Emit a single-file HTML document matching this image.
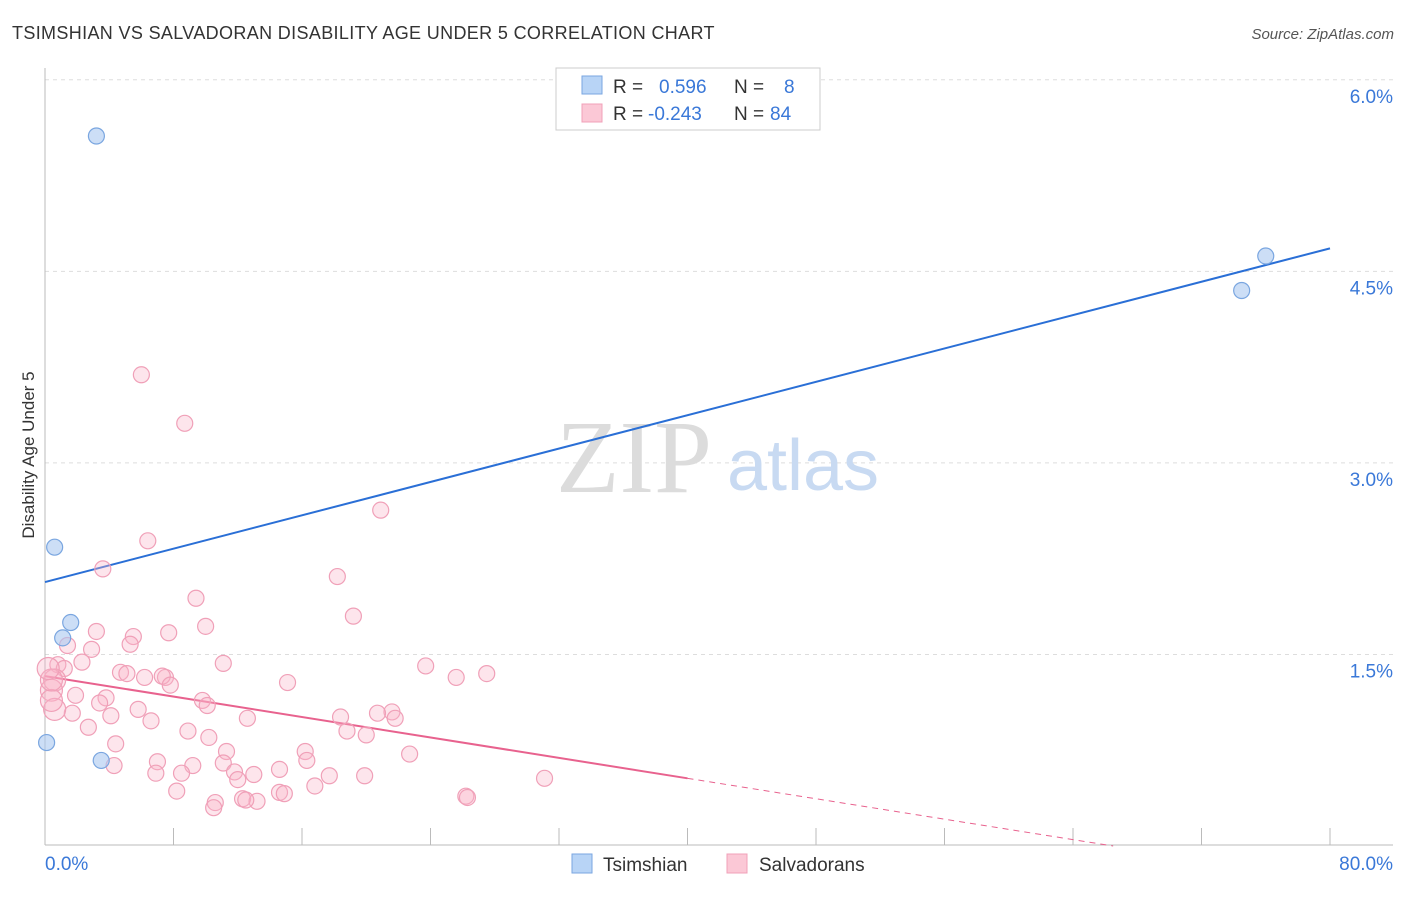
<!DOCTYPE html>
<html><head><meta charset="utf-8"><style>
body{margin:0;background:#fff;font-family:"Liberation Sans",sans-serif;}
</style></head><body>
<svg width="1406" height="892" xmlns="http://www.w3.org/2000/svg" font-family="Liberation Sans, sans-serif">
<text x="12" y="39" font-size="18" fill="#333" letter-spacing="0.35">TSIMSHIAN VS SALVADORAN DISABILITY AGE UNDER 5 CORRELATION CHART</text>
<text x="1394" y="39" font-size="15" fill="#555" font-style="italic" text-anchor="end">Source: ZipAtlas.com</text>
<g id="grid"></g>
<g>
<text x="634" y="492" font-size="104" fill="#dcdcdc" style="font-family:'Liberation Serif',serif" text-anchor="middle">ZIP</text>
<text x="803" y="490" font-size="72" fill="#c8daf2" text-anchor="middle">atlas</text>
</g>
<line x1="45" y1="68" x2="45" y2="845" stroke="#bbb"/>
<line x1="45" y1="845" x2="1393" y2="845" stroke="#bbb"/>
<g id="xticks"></g>
<text x="45" y="870" font-size="19" fill="#3a78d8">0.0%</text>
<text x="1393" y="870" font-size="19" fill="#3a78d8" text-anchor="end">80.0%</text>
<text transform="translate(34,455) rotate(-90)" font-size="17" fill="#333" text-anchor="middle">Disability Age Under 5</text>
<g id="lines"></g>
<g id="pts"></g>
<g>
<rect x="556" y="68" width="264" height="62" fill="#fff" stroke="#ccc"/>
<rect x="582" y="76" width="20" height="18" fill="#b8d4f6" stroke="#7aa6e0"/>
<rect x="582" y="104" width="20" height="18" fill="#fbc8d6" stroke="#f0a0b8"/>
<text x="613" y="93" font-size="19" fill="#333">R = <tspan fill="#3a78d8" x="659">0.596</tspan><tspan x="734">N = </tspan><tspan fill="#3a78d8" x="784">8</tspan></text>
<text x="613" y="120" font-size="19" fill="#333">R = <tspan fill="#3a78d8" x="648">-0.243</tspan><tspan x="734">N = </tspan><tspan fill="#3a78d8" x="770">84</tspan></text>
</g>
<g>
<rect x="572" y="854" width="20" height="19" fill="#b8d4f6" stroke="#7aa6e0"/>
<text x="603" y="871" font-size="19" fill="#333">Tsimshian</text>
<rect x="727" y="854" width="20" height="19" fill="#fbc8d6" stroke="#f0a0b8"/>
<text x="759" y="871" font-size="19" fill="#333">Salvadorans</text>
</g>
</svg>
<script>
const yTicks=[1.5,3.0,4.5,6.0];
const yTickLabels=["1.5%","3.0%","4.5%","6.0%"];
const xTicks=[0,8,16,24,32,40,48,56,64,72,80];
const blueX=[3.2,76.0,74.5,0.6,1.6,1.1,0.1,3.5];
const blueY=[5.56,4.62,4.35,2.34,1.75,1.63,0.81,0.67];
const pinkX=[6.0,8.7,20.9,6.4,3.6,18.2,9.4,19.2,10.0,3.2,7.7,5.5,5.3,1.4,2.9,11.1,0.8,23.7,2.3,1.2,27.5,25.6,4.7,5.1,7.5,7.3,6.2,15.1,7.8,0.6,0.4,1.9,3.8,9.8,10.1,3.4,21.6,20.7,4.1,5.8,1.7,0.6,18.4,21.8,12.6,6.6,2.7,18.8,8.9,20.0,10.2,4.4,11.3,16.2,22.7,7.0,16.3,11.1,4.3,9.2,14.6,6.9,8.5,11.8,13.0,12.0,17.7,19.9,31.1,16.8,8.2,14.6,14.9,10.6,12.3,13.2,26.2,26.3,10.5,12.5,0.4,0.4,0.2];
const pinkY=[3.69,3.31,2.63,2.39,2.17,2.11,1.94,1.80,1.72,1.68,1.67,1.64,1.58,1.57,1.54,1.43,1.42,1.41,1.44,1.39,1.35,1.32,1.36,1.35,1.32,1.33,1.32,1.28,1.26,1.30,1.22,1.18,1.16,1.14,1.10,1.12,1.05,1.04,1.02,1.07,1.04,1.07,1.01,1.00,1.00,0.98,0.93,0.90,0.90,0.87,0.85,0.80,0.74,0.74,0.72,0.66,0.67,0.65,0.63,0.63,0.60,0.57,0.57,0.58,0.56,0.52,0.55,0.55,0.53,0.47,0.43,0.42,0.41,0.34,0.37,0.35,0.39,0.38,0.30,0.36,1.14,1.30,1.39];
const blueFit=[2.067,4.68];
const pinkFit=[1.33,0.53];
const NS="http://www.w3.org/2000/svg";
const sx=v=>45+v*16.0625, sy=v=>846-v*127.7;
function mk(tag,attrs,parent){const e=document.createElementNS(NS,tag);for(const k in attrs)e.setAttribute(k,attrs[k]);document.getElementById(parent).appendChild(e);return e;}
yTicks.forEach((t,i)=>{
 const l=mk('line',{x1:45,x2:1393,y1:sy(t),y2:sy(t),stroke:'#ddd','stroke-dasharray':'4,4'},'grid');
 
 
 const tx=mk('text',{x:1393,y:sy(t)+23,'font-size':19,fill:'#3a78d8','text-anchor':'end'},'grid');
 tx.textContent=yTickLabels[i];
 
 
});
xTicks.forEach(t=>{
 const l=mk('line',{x1:sx(t),x2:sx(t),y1:828,y2:845,stroke:'#bbb'},'xticks');
 
 
});
const bl=mk('line',{x1:sx(0),y1:sy(blueFit[0]),x2:sx(80),y2:sy(blueFit[1]),stroke:'#2a6fd6','stroke-width':2},'lines');


const slope=(pinkFit[1]-pinkFit[0])/40;
const pl=mk('line',{x1:sx(0),y1:sy(pinkFit[0]),x2:sx(40),y2:sy(pinkFit[1]),stroke:'#e8628e','stroke-width':2},'lines');


const xEnd=Math.min(80,-pinkFit[0]/slope);
const pd=mk('line',{x1:sx(40),y1:sy(pinkFit[1]),x2:sx(xEnd),y2:sy(pinkFit[0]+slope*xEnd),stroke:'#e8628e','stroke-width':1,'stroke-dasharray':'6,5'},'lines');


pinkX.forEach((x,i)=>{
 const c=mk('circle',{cx:sx(x),cy:sy(pinkY[i]),r:(x<1&&i>28)?11:8,fill:'rgba(248,180,200,0.35)',stroke:'#f0a0b8','stroke-width':1.2},'pts');
 
 
});
blueX.forEach((x,i)=>{
 const c=mk('circle',{cx:sx(x),cy:sy(blueY[i]),r:8,fill:'rgba(170,200,240,0.6)',stroke:'#7aa6e0','stroke-width':1.2},'pts');
 
 
});
</script>
</body></html>
